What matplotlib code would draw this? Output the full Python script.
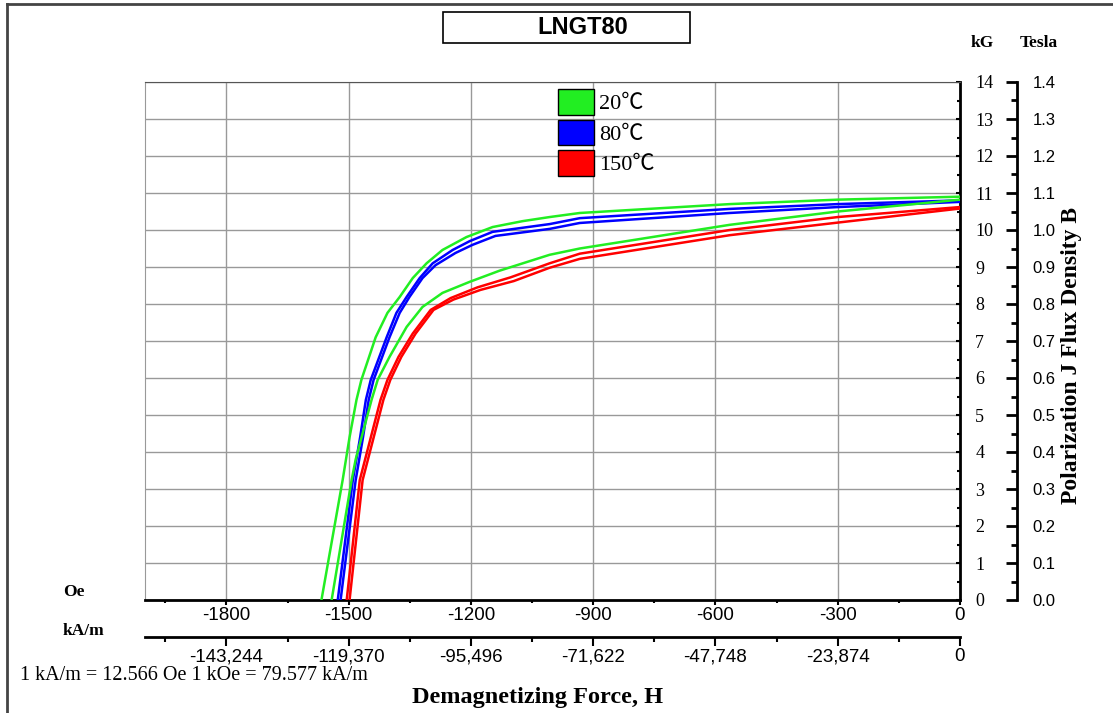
"""LNGT80 demagnetization curves."""

import matplotlib
matplotlib.use("Agg")
import matplotlib.pyplot as plt
from matplotlib.patches import Patch, Rectangle
from matplotlib.lines import Line2D
from matplotlib.ticker import FixedLocator, MultipleLocator

W, H = 1113, 713

# ---- data (H in Oe, B in kG) ----
g_up_h = [-1567, -1515, -1498, -1481, -1469, -1434, -1405, -1375, -1343, -1309, -1270, -1211,
          -1147, -1073, -1007, -933, -565, -300, 0]
g_up_b = [0, 3.24, 4.4, 5.41, 5.95, 7.1, 7.76, 8.19, 8.7, 9.1, 9.46, 9.81,
          10.08, 10.24, 10.35, 10.46, 10.7, 10.82, 10.9]

b_a_h = [-1527, -1490, -1472, -1458, -1446, -1407, -1383, -1358, -1326, -1294, -1245, -1203,
         -1147, -1007, -933, -565, -300, 0]
b_a_b = [0, 3.24, 4.4, 5.41, 5.95, 7.1, 7.76, 8.19, 8.7, 9.1, 9.46, 9.7,
         9.95, 10.16, 10.32, 10.57, 10.7, 10.8]

b_b_h = [-1520, -1483, -1465, -1451, -1439, -1400, -1375, -1351, -1319, -1287, -1238, -1196,
         -1140, -1007, -933, -565, -300, 0]
b_b_b = [0, 3.24, 4.4, 5.41, 5.95, 7.1, 7.76, 8.19, 8.7, 9.05, 9.38, 9.6,
         9.84, 10.03, 10.19, 10.46, 10.62, 10.76]

g_lo_h = [-1542, -1493, -1483, -1444, -1429, -1400, -1358, -1319, -1270, -1203, -1130,
          -1007, -933, -565, -300, 0]
g_lo_b = [0, 3.24, 3.8, 5.41, 5.95, 6.57, 7.38, 7.92, 8.3, 8.6, 8.9,
          9.33, 9.5, 10.14, 10.5, 10.82]

r_a_h = [-1505, -1473, -1422, -1405, -1378, -1343, -1299, -1250, -1184, -1103,
         -1007, -933, -565, -300, 0]
r_a_b = [0, 3.24, 5.41, 5.95, 6.57, 7.2, 7.84, 8.16, 8.45, 8.72,
         9.1, 9.36, 10.0, 10.35, 10.62]

r_b_h = [-1498, -1466, -1415, -1398, -1371, -1336, -1292, -1243, -1177, -1095,
         -1007, -933, -565, -300, 0]
r_b_b = [0, 3.24, 5.41, 5.95, 6.57, 7.2, 7.84, 8.12, 8.38, 8.62,
         8.98, 9.22, 9.86, 10.2, 10.58]

oe_ticks = [-1800, -1500, -1200, -900, -600, -300, 0]
oe_labels = ['-1800', '-1500', '-1200', '-900', '-600', '-300', '0']
kam_labels = ['-143,244', '-119,370', '-95,496', '-71,622', '-47,748', '-23,874', '0']
kg_ticks = list(range(0, 15))
kg_labels = [str(v) for v in kg_ticks]
t_ticks = [v / 10 for v in range(0, 15)]
t_labels = ['%.1f' % v for v in t_ticks]

legend_names = ['20\u2103', '80\u2103', '150\u2103']

GREEN, BLUE, RED = '#22ee22', '#0000ff', '#ff0000'
legend_colors = [GREEN, BLUE, RED]
SERIF = ['Liberation Serif', 'DejaVu Serif']
SANS = ['Liberation Sans', 'DejaVu Sans']


def fx(px):
    return px / W


def fy(py):
    return 1 - py / H


def pt(px):
    # pixels -> points at dpi 100
    return px * 0.72


fig = plt.figure(figsize=(W / 100, H / 100), dpi=100)
ax = fig.add_axes([fx(145), fy(600), (960 - 145) / W, (600 - 82) / H])

# curves
for hh, bb, c in [(g_up_h, g_up_b, GREEN), (b_a_h, b_a_b, BLUE), (b_b_h, b_b_b, BLUE),
                  (g_lo_h, g_lo_b, GREEN), (r_a_h, r_a_b, RED), (r_b_h, r_b_b, RED)]:
    ax.plot(hh, bb, color=c, lw=1.8, zorder=3)

ax.set_xlim(-2000, 0)
ax.set_ylim(0, 14)

# kA/m axis
ax2 = ax.twiny()
ax2.set_xlim(ax.get_xlim())
ax2.xaxis.set_ticks_position('bottom')
ax2.spines['bottom'].set_position(('outward', pt(37)))
for s in ['top', 'left', 'right']:
    ax2.spines[s].set_visible(False)
ax2.spines['bottom'].set_linewidth(2)
ax2.xaxis.set_major_locator(FixedLocator(oe_ticks))
ax2.set_xticklabels(kam_labels, fontfamily=SANS, fontsize=13.5)
ax2.xaxis.set_minor_locator(MultipleLocator(150))
ax2.tick_params(axis='x', which='major', length=6.5, width=1.5, pad=1.5)
ax2.tick_params(axis='x', which='minor', length=3.5, width=1.5)

# Tesla axis
ax3 = ax.twinx()
ax3.set_ylim(0, 1.4)
ax3.spines['right'].set_position(('outward', pt(57)))
for s in ['top', 'left', 'bottom']:
    ax3.spines[s].set_visible(False)
ax3.spines['right'].set_linewidth(2)
ax3.yaxis.set_major_locator(FixedLocator(t_ticks))
ax3.set_yticklabels(t_labels, fontfamily=SANS, fontsize=12)
ax3.yaxis.set_minor_locator(MultipleLocator(0.05))
ax3.tick_params(axis='y', which='major', direction='in', length=8, width=2, pad=11)
ax3.tick_params(axis='y', which='minor', direction='in', length=4.5, width=2)

# main axis ticks (after twins, which reset tick sides)
ax.xaxis.set_major_locator(FixedLocator(oe_ticks))
ax.set_xticklabels(oe_labels, fontfamily=SANS, fontsize=13.5)
ax.xaxis.set_minor_locator(MultipleLocator(150))
ax.yaxis.tick_right()
ax.yaxis.set_major_locator(FixedLocator(kg_ticks))
ax.yaxis.set_minor_locator(MultipleLocator(0.5))
ax.set_yticklabels(kg_labels, fontfamily=SERIF, fontsize=13)
ax.grid(True, which='major', color='#999999', lw=1)
ax.tick_params(axis='x', which='major', length=3.5, width=1.5, pad=1.5, direction='out')
ax.tick_params(axis='x', which='minor', length=2, width=1.5)
ax.tick_params(axis='y', which='major', length=3, width=1.5, pad=11, direction='in',
               left=False, right=True)
ax.tick_params(axis='y', which='minor', length=2, width=1.5, direction='in',
               left=False, right=True)
ax.spines['bottom'].set_linewidth(2)
ax.spines['right'].set_linewidth(2)
ax.spines['top'].set_color('#555555')
ax.spines['left'].set_color('#999999')
ax.set_axisbelow(True)

# legend
handles = [Patch(facecolor=c, edgecolor='black', lw=1) for c in legend_colors]
ax.legend(handles, legend_names, loc='upper left',
          bbox_to_anchor=(fx(558), fy(89)), bbox_transform=fig.transFigure,
          frameon=False, handlelength=1.6, handleheight=1.4, borderpad=0,
          handletextpad=0.25, labelspacing=0.22, borderaxespad=0,
          prop={'family': ['Liberation Serif', 'Noto Sans CJK JP', 'DejaVu Sans'], 'size': 16})

# texts
fig.text(fx(982), fy(43), 'kG', fontfamily=SERIF, fontweight='bold', fontsize=12.5,
         ha='center', va='center')
fig.text(fx(1039), fy(43), 'Tesla', fontfamily=SERIF, fontweight='bold', fontsize=12.5,
         ha='center', va='center')
fig.text(fx(74), fy(592), 'Oe', fontfamily=SERIF, fontweight='bold', fontsize=12.5,
         ha='center', va='center')
fig.text(fx(83), fy(631), 'kA/m', fontfamily=SERIF, fontweight='bold', fontsize=12.5,
         ha='center', va='center')
fig.text(fx(20), fy(675), '1 kA/m = 12.566 Oe 1 kOe = 79.577 kA/m', fontfamily=SERIF,
         fontsize=14.5, ha='left', va='center')
fig.text(fx(538), fy(697), 'Demagnetizing Force, H', fontfamily=SERIF, fontweight='bold',
         fontsize=17.5, ha='center', va='center')
fig.text(fx(1072), fy(355), 'Polarization J Flux Density B', fontfamily=SERIF,
         fontweight='bold', fontsize=17, ha='center', va='center', rotation=90)

# title box
fig.patches.append(Rectangle((fx(443), fy(43)), (690 - 443) / W, 31 / H, transform=fig.transFigure,
                             facecolor='white', edgecolor='black', lw=1.2))
fig.text(fx(583), fy(27), 'LNGT80', fontfamily=SANS, fontweight='bold', fontsize=17,
         ha='center', va='center')

# outer border
fig.lines.append(Line2D([fx(7), fx(7)], [fy(4), 0], transform=fig.transFigure, color='#444444', lw=2))
fig.lines.append(Line2D([fx(7), 1], [fy(4), fy(4)], transform=fig.transFigure, color='#444444', lw=2))

fig.savefig('out.png', dpi=100)
